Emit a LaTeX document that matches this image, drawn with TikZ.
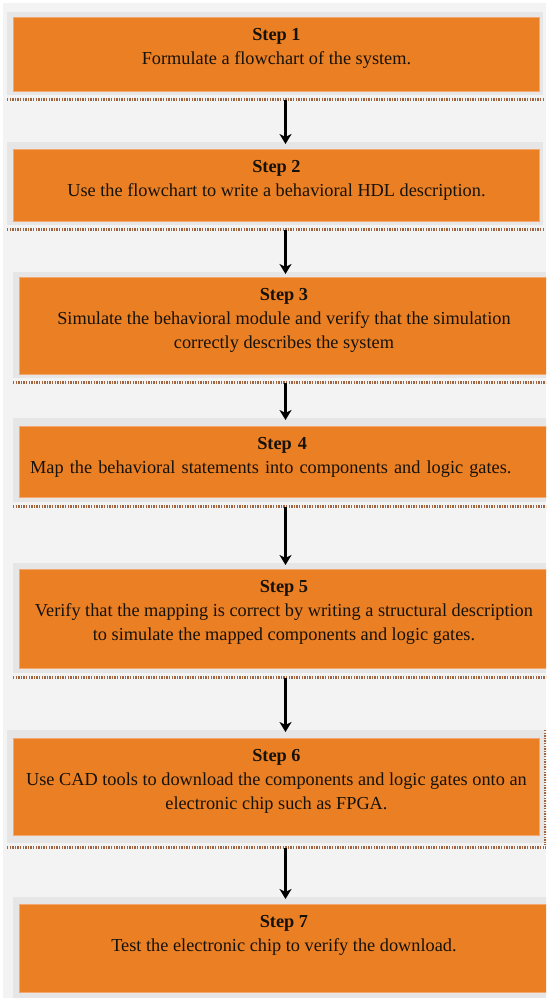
\documentclass[tikz,border=0pt]{standalone}
\usepackage{fontspec}
\setmainfont{Liberation Serif}
\usetikzlibrary{arrows.meta, positioning}

\definecolor{steporange}{RGB}{235,127,36}
\definecolor{stepedge}{RGB}{244,168,110}
\definecolor{framegray}{RGB}{230,230,230}
\definecolor{bggray}{RGB}{243,243,243}
\definecolor{dotbrown}{RGB}{160,100,62}
\definecolor{textdark}{RGB}{22,18,10}

\begin{document}
\begin{tikzpicture}[x=1pt, y=-1pt,
    frame/.style={fill=framegray, draw=none, anchor=north west, inner sep=0pt},
    stepbox/.style={fill=steporange, draw=stepedge, line width=0.9pt, anchor=north west, inner sep=0pt},
    steptext/.style={align=center, inner sep=0pt, text=textdark, font=\fontsize{18.3}{24}\selectfont},
    dots/.style={draw=dotbrown, line width=2.2pt, dash pattern=on 1.3pt off 1.3pt},
    arr/.style={-{Stealth[length=10pt, width=12pt, inset=3pt]}, line width=2.1pt, black}]
    \useasboundingbox (0,0) rectangle (546,998);
    \clip (0,0) rectangle (546,998);
    \fill[white] (0,0) rectangle (546,998);
    \fill[bggray] (3,3) rectangle (546,998);

    % grey frames
    \node[frame, minimum width=536pt, minimum height=83pt] (f1) at (7,12) {};
    \node[frame, minimum width=536pt, minimum height=83pt] (f2) at (7,142) {};
    \node[frame, minimum width=540pt, minimum height=106pt] (f3) at (13,272) {};
    \node[frame, minimum width=540pt, minimum height=84pt] (f4) at (13,418) {};
    \node[frame, minimum width=540pt, minimum height=110pt] (f5) at (13,563) {};
    \node[frame, minimum width=538pt, minimum height=113pt] (f6) at (7,730) {};
    \node[frame, minimum width=540pt, minimum height=110pt] (f7) at (13,897) {};

    % orange boxes
    \node[stepbox, minimum width=526pt, minimum height=74pt] (b1) at (13,17) {};
    \node[stepbox, minimum width=526pt, minimum height=72pt] (b2) at (13,149) {};
    \node[stepbox, minimum width=529pt, minimum height=97pt] (b3) at (19,277) {};
    \node[stepbox, minimum width=529pt, minimum height=71pt] (b4) at (19,426) {};
    \node[stepbox, minimum width=529pt, minimum height=99pt] (b5) at (19,569) {};
    \node[stepbox, minimum width=526pt, minimum height=97pt] (b6) at (13,738) {};
    \node[stepbox, minimum width=529pt, minimum height=88pt] (b7) at (19,904) {};

    \node[steptext, below=11pt of b1.north] (s1) {\textbf{Step 1}\\Formulate a flowchart of the system.};
    \node[steptext, below=11pt of b2.north] (s2) {\textbf{Step 2}\\Use the flowchart to write a behavioral HDL description.};
    \node[steptext, below=11pt of b3.north] (s3) {\textbf{Step 3}\\Simulate the behavioral module and verify that the simulation\\correctly describes the system};
    \node[steptext, align=left, text width=504pt, anchor=north west] (s4) at (30,437) {\makebox[\linewidth]{\textbf{Step 4}}\\Map the behavioral statements into components and logic gates.};
    \node[steptext, below=11pt of b5.north] (s5) {\textbf{Step 5}\\Verify that the mapping is correct by writing a structural description\\to simulate the mapped components and logic gates.};
    \node[steptext, below=11pt of b6.north] (s6) {\textbf{Step 6}\\Use CAD tools to download the components and logic gates onto an\\electronic chip such as FPGA.};
    \node[steptext, below=11pt of b7.north] (s7) {\textbf{Step 7}\\Test the electronic chip to verify the download.};

    % dotted shadow lines
    \foreach \i in {1,...,6}
        \draw[dots] ([yshift=-4pt]f\i.south west) -- ([yshift=-4pt]f\i.south east);
    \draw[dots] (f6.north east) -- ([yshift=-2pt]f6.south east);

    % arrows
    \coordinate (ax) at (285.5,0);
    \foreach \a/\b in {1/2,2/3,3/4,4/5,5/6,6/7}
        \draw[arr] ([yshift=-5pt]f\a.south -| ax) -- ([yshift=-2pt]f\b.north -| ax);
\end{tikzpicture}
\end{document}
